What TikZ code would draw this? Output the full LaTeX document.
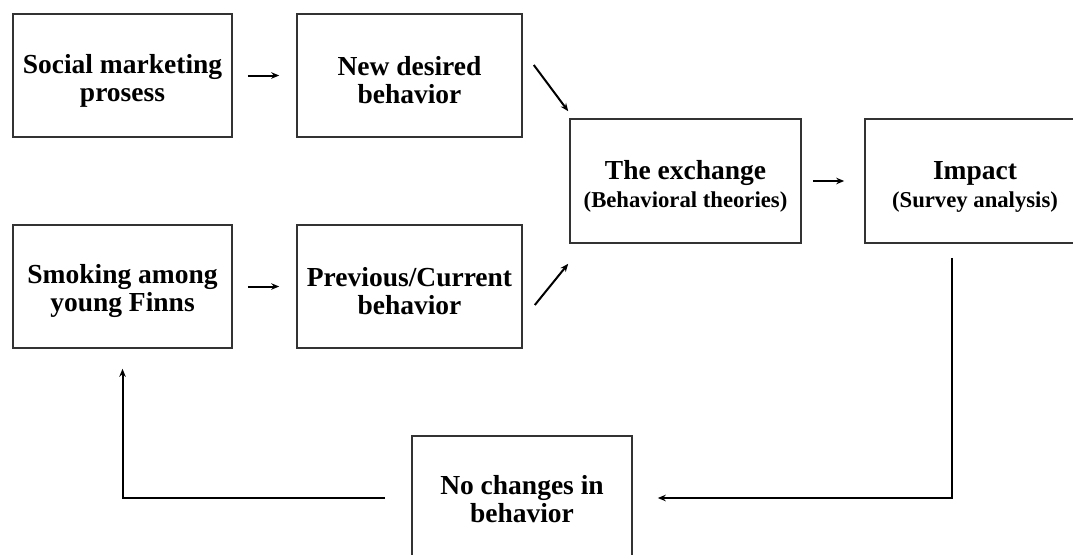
\documentclass[tikz,border=0pt]{standalone}
\usepackage{fontspec}
\setmainfont{Liberation Serif}
\usetikzlibrary{arrows.meta, positioning, calc}
\newcommand{\bigfnt}{\fontsize{27.5}{28}\selectfont\bfseries}
\newcommand{\subfnt}{\fontsize{22.7}{26}\selectfont\bfseries}
\tikzset{
  blok/.style={rectangle, draw=black!80, line width=1.6pt, minimum width=219pt,
               minimum height=123pt, inner sep=0pt, align=center, font=\bigfnt,
               text height=57pt},
  arc/.style={-{Stealth[length=8pt, width=6.5pt]}, line width=2pt}
}

\begin{document}
\begin{tikzpicture}[x=1pt, y=-1pt]
  \useasboundingbox (0,0) rectangle (1073,554);
  \clip (0,0) rectangle (1073,554);
  % upper row
  \node[blok] (smp) at (122.5,75.5) {Social marketing\\prosess};
  \node[blok, minimum width=225pt] (ndb) at (409.5,75.5) {New desired\\behavior};
  % lower row
  \node[blok] (smk) at (122.5,286.5) {Smoking among\\young Finns};
  \node[blok, minimum width=225pt] (prev) at (409.5,286.5) {Previous/Current\\behavior};
  % middle
  \node[blok, minimum width=231pt, minimum height=124pt] (exch) at (685.5,181)
    {The exchange\\{\subfnt (Behavioral theories)}};
  \node[blok, minimum width=220pt, minimum height=124pt] (imp) at (975,181)
    {Impact\\{\subfnt (Survey analysis)}};
  \node[blok, text height=49pt, minimum width=220pt, minimum height=124pt] (noch) at (522,498)
    {No changes in\\behavior};

  \draw[arc, shorten <=15pt, shorten >=17pt] (smp) -- (ndb);
  \draw[arc, shorten <=15pt, shorten >=17pt] (smk) -- (prev);
  \draw[arc, shorten <=11pt, shorten >=20pt] (exch) -- (imp);
  \draw[arc] ($(ndb.east)+(11,-10.5)$) -- ($(exch.north west)+(-1,-7)$);
  \draw[arc] ($(prev.east)+(12,18.5)$) -- ($(exch.south west)+(-1,20)$);
  % feedback loop
  \draw[arc] ($(imp.south)+(-23,14)$) |- ($(noch.east)+(25,0)$);
  \draw[arc] ($(noch.west)+(-26,0)$) -| ($(smk.south)+(0,20)$);
\end{tikzpicture}
\end{document}
